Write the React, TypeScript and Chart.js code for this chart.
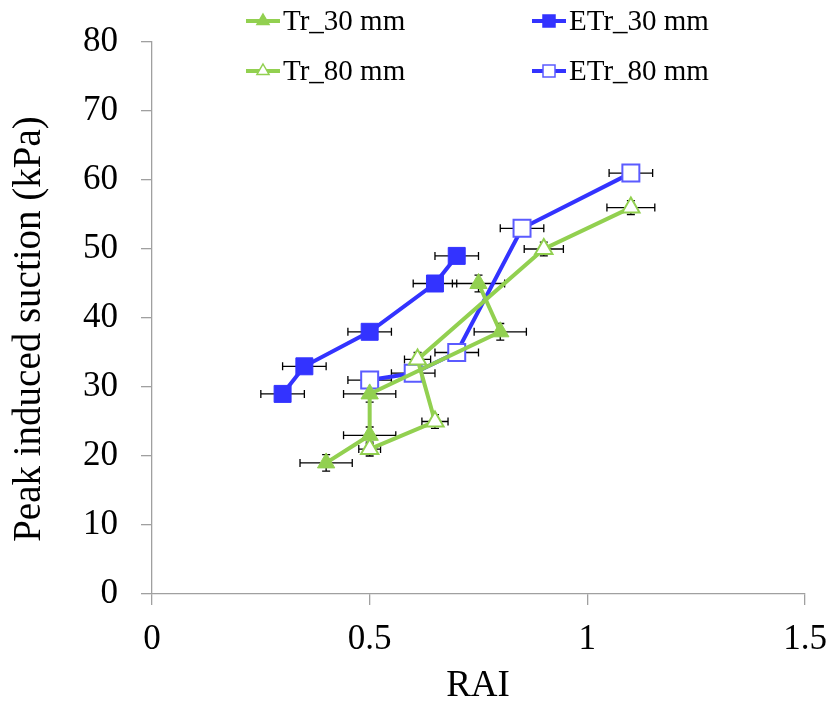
import React, { useEffect, useRef } from 'react';
import { Chart, registerables } from 'chart.js';

Chart.register(...registerables);

const FONT = "'Liberation Serif', 'Times New Roman', serif";
const GREEN = '#92D050';
const BLUE = '#3333FF';
const BLUE_LIGHT = '#5B5BFF';
const AXIS = '#A0A0A0';

const seriesNames = ['Tr_30 mm', 'Tr_80 mm', 'ETr_30 mm', 'ETr_80 mm'];
const xTitle = 'RAI';
const yTitle = 'Peak induced suction (kPa)';

const tr30X = [0.4, 0.5, 0.5, 0.8, 0.75];
const tr30Y = [19, 23, 29, 38, 45];
const tr30XErr = [0.06, 0.06, 0.06, 0.06, 0.06];
const tr30YErr = [1.2, 1.2, 1.2, 1.2, 1.2];

const tr80X = [0.5, 0.65, 0.61, 0.9, 1.1];
const tr80Y = [21, 25, 34, 50, 56];
const tr80XErr = [0.025, 0.03, 0.03, 0.045, 0.055];
const tr80YErr = [1, 1, 1, 1, 1];

const etr30X = [0.3, 0.35, 0.5, 0.65, 0.7];
const etr30Y = [29, 33, 38, 45, 49];
const etr30XErr = [0.05, 0.05, 0.05, 0.05, 0.05];

const etr80X = [0.5, 0.6, 0.7, 0.85, 1.1];
const etr80Y = [31, 32, 35, 53, 61];
const etr80XErr = [0.05, 0.05, 0.05, 0.05, 0.05];

const xTickMin = 0;
const xTickMax = 1.5;
const xTickStep = 0.5;
const yTickMin = 0;
const yTickMax = 80;
const yTickStep = 10;

function pts(xs: number[], ys: number[], xe: number[], ye?: number[]) {
  return xs.map((v, i) => ({ x: v, y: ys[i], xErr: xe[i], yErr: ye ? ye[i] : 0 }));
}

const errorBarPlugin = {
  id: 'errorBars',
  beforeDatasetsDraw(chart: any) {
    const { ctx, scales } = chart;
    const x = scales.x;
    const y = scales.y;
    ctx.save();
    ctx.strokeStyle = '#000';
    ctx.lineWidth = 1.3;
    const cap = 4;
    chart.data.datasets.forEach((ds: any) => {
      ds.data.forEach((p: any) => {
        const px = x.getPixelForValue(p.x);
        const py = y.getPixelForValue(p.y);
        if (p.xErr) {
          const l = x.getPixelForValue(p.x - p.xErr);
          const r = x.getPixelForValue(p.x + p.xErr);
          ctx.beginPath();
          ctx.moveTo(l, py);
          ctx.lineTo(r, py);
          ctx.moveTo(l, py - cap);
          ctx.lineTo(l, py + cap);
          ctx.moveTo(r, py - cap);
          ctx.lineTo(r, py + cap);
          ctx.stroke();
        }
        if (p.yErr) {
          const t = y.getPixelForValue(p.y + p.yErr);
          const b = y.getPixelForValue(p.y - p.yErr);
          ctx.beginPath();
          ctx.moveTo(px, t);
          ctx.lineTo(px, b);
          ctx.moveTo(px - cap, t);
          ctx.lineTo(px + cap, t);
          ctx.moveTo(px - cap, b);
          ctx.lineTo(px + cap, b);
          ctx.stroke();
        }
      });
    });
    ctx.restore();
  },
};

const legendItems = [
  { name: seriesNames[0], color: GREEN, border: GREEN, fill: GREEN, shape: 'triangle', col: 0, row: 0 },
  { name: seriesNames[1], color: GREEN, border: GREEN, fill: '#FFFFFF', shape: 'triangle', col: 0, row: 1 },
  { name: seriesNames[2], color: BLUE, border: BLUE, fill: BLUE, shape: 'rect', col: 1, row: 0 },
  { name: seriesNames[3], color: BLUE, border: BLUE_LIGHT, fill: '#FFFFFF', shape: 'rect', col: 1, row: 1 },
];

const legendPlugin = {
  id: 'customLegend',
  afterDraw(chart: any) {
    const { ctx } = chart;
    const colX = [246, 532];
    const rowY = [21, 71];
    ctx.save();
    legendItems.forEach((it) => {
      const x0 = colX[it.col];
      const y0 = rowY[it.row];
      ctx.strokeStyle = it.color;
      ctx.lineWidth = 4;
      ctx.beginPath();
      ctx.moveTo(x0, y0);
      ctx.lineTo(x0 + 34, y0);
      ctx.stroke();
      const cx = x0 + 17;
      ctx.fillStyle = it.fill;
      ctx.strokeStyle = it.border;
      ctx.lineWidth = 1.5;
      ctx.beginPath();
      if (it.shape === 'triangle') {
        const r = 7;
        ctx.moveTo(cx, y0 - r);
        ctx.lineTo(cx + r * 0.866, y0 + r * 0.5);
        ctx.lineTo(cx - r * 0.866, y0 + r * 0.5);
        ctx.closePath();
      } else {
        ctx.rect(cx - 6, y0 - 6, 12, 12);
      }
      ctx.fill();
      ctx.stroke();
      ctx.fillStyle = '#000';
      ctx.font = `29px ${FONT}`;
      ctx.textBaseline = 'middle';
      ctx.textAlign = 'left';
      ctx.fillText(it.name, x0 + 37, y0 + 1);
    });

    // axis titles
    ctx.fillStyle = '#000';
    ctx.textAlign = 'center';
    ctx.textBaseline = 'middle';
    ctx.font = `37px ${FONT}`;
    ctx.fillText(xTitle, 478, 686);
    ctx.save();
    ctx.translate(30, 329);
    ctx.rotate(-Math.PI / 2);
    ctx.font = `39px ${FONT}`;
    ctx.fillText(yTitle, 0, 0);
    ctx.restore();
    ctx.restore();
  },
};

export default function App() {
  const ref = useRef<HTMLCanvasElement | null>(null);

  useEffect(() => {
    if (!ref.current) return;
    const chart = new Chart(ref.current, {
      type: 'line',
      data: {
        datasets: [
          {
            label: seriesNames[0],
            data: pts(tr30X, tr30Y, tr30XErr, tr30YErr),
            borderColor: GREEN,
            backgroundColor: GREEN,
            pointBackgroundColor: GREEN,
            pointBorderColor: GREEN,
            pointStyle: 'triangle',
            pointRadius: 10,
            pointBorderWidth: 1,
            borderWidth: 4,
            tension: 0,
          },
          {
            label: seriesNames[1],
            data: pts(tr80X, tr80Y, tr80XErr, tr80YErr),
            borderColor: GREEN,
            backgroundColor: '#FFFFFF',
            pointBackgroundColor: '#FFFFFF',
            pointBorderColor: GREEN,
            pointStyle: 'triangle',
            pointRadius: 10,
            pointBorderWidth: 2,
            borderWidth: 4,
            tension: 0,
          },
          {
            label: seriesNames[2],
            data: pts(etr30X, etr30Y, etr30XErr),
            borderColor: BLUE,
            backgroundColor: BLUE,
            pointBackgroundColor: BLUE,
            pointBorderColor: BLUE,
            pointStyle: 'rect',
            pointRadius: 12,
            pointBorderWidth: 1,
            borderWidth: 4,
            tension: 0,
          },
          {
            label: seriesNames[3],
            data: pts(etr80X, etr80Y, etr80XErr),
            borderColor: BLUE,
            backgroundColor: '#FFFFFF',
            pointBackgroundColor: '#FFFFFF',
            pointBorderColor: BLUE_LIGHT,
            pointStyle: 'rect',
            pointRadius: 12,
            pointBorderWidth: 2,
            borderWidth: 4,
            tension: 0,
          },
        ] as any,
      },
      options: {
        animation: false,
        responsive: false,
        events: [],
        layout: { padding: { top: 42, right: 27, left: 0, bottom: 0 } },
        plugins: {
          legend: { display: false },
          tooltip: { enabled: false },
        },
        scales: {
          x: {
            type: 'linear',
            min: xTickMin,
            max: xTickMax,
            ticks: {
              stepSize: xTickStep,
              color: '#000',
              font: { family: FONT, size: 35 },
              padding: 14,
              callback: (v: any) => String(Number(v)),
            },
            border: { color: AXIS, width: 1.3 },
            grid: { drawOnChartArea: false, drawTicks: true, tickLength: 11, color: AXIS, lineWidth: 1.3 },
            title: { display: false },
            afterFit(s: any) {
              s.height = 112;
              s.paddingLeft = 0;
              s.paddingRight = 0;
            },
          },
          y: {
            type: 'linear',
            min: yTickMin,
            max: yTickMax,
            ticks: {
              stepSize: yTickStep,
              color: '#000',
              font: { family: FONT, size: 35 },
              padding: 23,
            },
            border: { color: AXIS, width: 1.3 },
            grid: { drawOnChartArea: false, drawTicks: true, tickLength: 11, color: AXIS, lineWidth: 1.3 },
            title: { display: false },
            afterFit(s: any) {
              s.width = 152;
              s.paddingTop = 0;
              s.paddingBottom = 0;
            },
          },
        },
      } as any,
      plugins: [errorBarPlugin, legendPlugin],
    });
    return () => chart.destroy();
  }, []);

  return (
    <div style={{ position: 'fixed', left: 0, top: 0, width: 832, height: 706, background: '#fff' }}>
      <canvas ref={ref} width={832} height={706} style={{ display: 'block' }} />
    </div>
  );
}
